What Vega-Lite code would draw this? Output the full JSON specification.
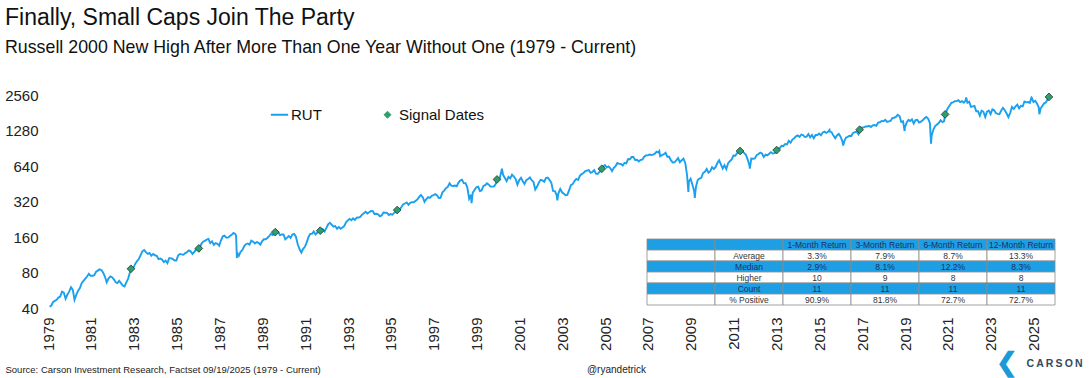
{
"$schema": "https://vega.github.io/schema/vega-lite/v6.json",
"width": 1001,
"height": 213,
"autosize": {"type": "none"},
"padding": {"left": 48, "top": 95, "right": 41, "bottom": 70},
"background": "white",
"config": {"font": "Liberation Sans", "view": {"stroke": null}},
"title": {
  "text": "Finally, Small Caps Join The Party",
  "subtitle": "Russell 2000 New High After More Than One Year Without One (1979 - Current)",
  "anchor": "start", "frame": "group", "dx": -43, "offset": 31,
  "font": "Liberation Sans", "fontSize": 23, "fontWeight": "normal", "color": "#111111",
  "subtitleFont": "Liberation Sans", "subtitleFontSize": 17.8, "subtitleColor": "#111111", "subtitlePadding": 9
},
"datasets": {
"rut": [
{"d":"1979-01-28","v":41},{"d":"1979-02-28","v":42},{"d":"1979-03-28","v":45},{"d":"1979-04-28","v":46},{"d":"1979-05-28","v":47},{"d":"1979-06-28","v":49},{"d":"1979-07-28","v":50},{"d":"1979-08-28","v":55},{"d":"1979-09-28","v":54},{"d":"1979-10-28","v":48},{"d":"1979-11-28","v":52},{"d":"1979-12-28","v":55},
{"d":"1980-01-28","v":60},{"d":"1980-02-28","v":57},{"d":"1980-03-28","v":47},{"d":"1980-04-28","v":52},{"d":"1980-05-28","v":56},{"d":"1980-06-28","v":59},{"d":"1980-07-28","v":65},{"d":"1980-08-28","v":68},{"d":"1980-09-28","v":71},{"d":"1980-10-28","v":74},{"d":"1980-11-28","v":78},{"d":"1980-12-28","v":75},
{"d":"1981-01-28","v":75},{"d":"1981-02-28","v":76},{"d":"1981-03-28","v":81},{"d":"1981-04-28","v":83},{"d":"1981-05-28","v":85},{"d":"1981-06-28","v":84},{"d":"1981-07-28","v":80},{"d":"1981-08-28","v":74},{"d":"1981-09-28","v":66},{"d":"1981-10-28","v":71},{"d":"1981-11-28","v":74},{"d":"1981-12-28","v":73},
{"d":"1982-01-28","v":70},{"d":"1982-02-28","v":66},{"d":"1982-03-28","v":65},{"d":"1982-04-28","v":68},{"d":"1982-05-28","v":65},{"d":"1982-06-28","v":62},{"d":"1982-07-28","v":61},{"d":"1982-08-28","v":66},{"d":"1982-09-28","v":71},{"d":"1982-10-28","v":80},{"d":"1982-11-15","v":86},{"d":"1982-11-28","v":86},{"d":"1982-12-28","v":88},
{"d":"1983-01-28","v":95},{"d":"1983-02-28","v":100},{"d":"1983-03-28","v":104},{"d":"1983-04-28","v":112},{"d":"1983-05-28","v":121},{"d":"1983-06-28","v":124},{"d":"1983-07-28","v":119},{"d":"1983-08-28","v":115},{"d":"1983-09-28","v":117},{"d":"1983-10-28","v":111},{"d":"1983-11-28","v":115},{"d":"1983-12-28","v":112},
{"d":"1984-01-28","v":111},{"d":"1984-02-28","v":104},{"d":"1984-03-28","v":105},{"d":"1984-04-28","v":103},{"d":"1984-05-28","v":98},{"d":"1984-06-28","v":101},{"d":"1984-07-28","v":96},{"d":"1984-08-28","v":106},{"d":"1984-09-28","v":106},{"d":"1984-10-28","v":104},{"d":"1984-11-28","v":101},{"d":"1984-12-28","v":101},
{"d":"1985-01-28","v":112},{"d":"1985-02-28","v":115},{"d":"1985-03-28","v":114},{"d":"1985-04-28","v":113},{"d":"1985-05-28","v":117},{"d":"1985-06-28","v":119},{"d":"1985-07-28","v":123},{"d":"1985-08-28","v":121},{"d":"1985-09-28","v":115},{"d":"1985-10-28","v":119},{"d":"1985-11-28","v":126},{"d":"1985-12-28","v":124},
{"d":"1986-01-15","v":128},{"d":"1986-01-28","v":128},{"d":"1986-02-28","v":140},{"d":"1986-03-28","v":146},{"d":"1986-04-28","v":148},{"d":"1986-05-28","v":152},{"d":"1986-06-28","v":154},{"d":"1986-07-28","v":142},{"d":"1986-08-28","v":147},{"d":"1986-09-28","v":137},{"d":"1986-10-28","v":142},{"d":"1986-11-28","v":140},{"d":"1986-12-28","v":135},
{"d":"1987-01-28","v":150},{"d":"1987-02-28","v":162},{"d":"1987-03-28","v":164},{"d":"1987-04-28","v":158},{"d":"1987-05-28","v":158},{"d":"1987-06-28","v":163},{"d":"1987-07-28","v":167},{"d":"1987-08-28","v":173},{"d":"1987-09-28","v":170},{"d":"1987-10-12","v":164},{"d":"1987-10-26","v":106},{"d":"1987-10-30","v":118},{"d":"1987-11-28","v":111},{"d":"1987-12-28","v":120},
{"d":"1988-01-28","v":124},{"d":"1988-02-28","v":134},{"d":"1988-03-28","v":139},{"d":"1988-04-28","v":141},{"d":"1988-05-28","v":138},{"d":"1988-06-28","v":149},{"d":"1988-07-28","v":146},{"d":"1988-08-28","v":141},{"d":"1988-09-28","v":145},{"d":"1988-10-28","v":143},{"d":"1988-11-28","v":138},{"d":"1988-12-28","v":147},
{"d":"1989-01-28","v":153},{"d":"1989-02-28","v":153},{"d":"1989-03-28","v":157},{"d":"1989-04-28","v":163},{"d":"1989-05-28","v":170},{"d":"1989-06-28","v":166},{"d":"1989-07-28","v":172},{"d":"1989-08-10","v":176},{"d":"1989-08-28","v":178},{"d":"1989-09-28","v":177},{"d":"1989-10-28","v":166},{"d":"1989-11-28","v":168},{"d":"1989-12-28","v":168},
{"d":"1990-01-28","v":153},{"d":"1990-02-28","v":158},{"d":"1990-03-28","v":163},{"d":"1990-04-28","v":157},{"d":"1990-05-28","v":168},{"d":"1990-06-28","v":170},{"d":"1990-07-28","v":161},{"d":"1990-08-28","v":139},{"d":"1990-09-28","v":126},{"d":"1990-10-28","v":118},{"d":"1990-11-28","v":127},{"d":"1990-12-28","v":132},
{"d":"1991-01-28","v":144},{"d":"1991-02-28","v":160},{"d":"1991-03-28","v":170},{"d":"1991-04-28","v":170},{"d":"1991-05-28","v":178},{"d":"1991-06-28","v":168},{"d":"1991-07-28","v":174},{"d":"1991-08-28","v":181},{"d":"1991-09-15","v":181},{"d":"1991-09-28","v":182},{"d":"1991-10-28","v":187},{"d":"1991-11-28","v":178},{"d":"1991-12-28","v":190},
{"d":"1992-01-28","v":205},{"d":"1992-02-28","v":211},{"d":"1992-03-28","v":204},{"d":"1992-04-28","v":196},{"d":"1992-05-28","v":198},{"d":"1992-06-28","v":188},{"d":"1992-07-28","v":194},{"d":"1992-08-28","v":188},{"d":"1992-09-28","v":193},{"d":"1992-10-28","v":198},{"d":"1992-11-28","v":213},{"d":"1992-12-28","v":221},
{"d":"1993-01-28","v":228},{"d":"1993-02-28","v":222},{"d":"1993-03-28","v":230},{"d":"1993-04-28","v":223},{"d":"1993-05-28","v":233},{"d":"1993-06-28","v":234},{"d":"1993-07-28","v":237},{"d":"1993-08-28","v":248},{"d":"1993-09-28","v":255},{"d":"1993-10-28","v":262},{"d":"1993-11-28","v":253},{"d":"1993-12-28","v":259},
{"d":"1994-01-28","v":266},{"d":"1994-02-28","v":265},{"d":"1994-03-28","v":251},{"d":"1994-04-28","v":252},{"d":"1994-05-28","v":249},{"d":"1994-06-28","v":240},{"d":"1994-07-28","v":244},{"d":"1994-08-28","v":258},{"d":"1994-09-28","v":257},{"d":"1994-10-28","v":256},{"d":"1994-11-28","v":246},{"d":"1994-12-28","v":250},
{"d":"1995-01-28","v":247},{"d":"1995-02-28","v":257},{"d":"1995-03-28","v":261},{"d":"1995-04-20","v":271},{"d":"1995-04-28","v":267},{"d":"1995-05-28","v":272},{"d":"1995-06-28","v":286},{"d":"1995-07-28","v":302},{"d":"1995-08-28","v":308},{"d":"1995-09-28","v":314},{"d":"1995-10-28","v":300},{"d":"1995-11-28","v":312},{"d":"1995-12-28","v":316},
{"d":"1996-01-28","v":315},{"d":"1996-02-28","v":325},{"d":"1996-03-28","v":332},{"d":"1996-04-28","v":350},{"d":"1996-05-28","v":363},{"d":"1996-06-28","v":348},{"d":"1996-07-28","v":318},{"d":"1996-08-28","v":336},{"d":"1996-09-28","v":349},{"d":"1996-10-28","v":344},{"d":"1996-11-28","v":358},{"d":"1996-12-28","v":363},
{"d":"1997-01-28","v":369},{"d":"1997-02-28","v":360},{"d":"1997-03-28","v":343},{"d":"1997-04-28","v":344},{"d":"1997-05-28","v":382},{"d":"1997-06-28","v":396},{"d":"1997-07-28","v":415},{"d":"1997-08-28","v":425},{"d":"1997-09-28","v":456},{"d":"1997-10-28","v":436},{"d":"1997-11-28","v":433},{"d":"1997-12-28","v":437},
{"d":"1998-01-28","v":431},{"d":"1998-02-28","v":463},{"d":"1998-03-28","v":482},{"d":"1998-04-28","v":490},{"d":"1998-05-28","v":458},{"d":"1998-06-28","v":457},{"d":"1998-07-28","v":420},{"d":"1998-08-28","v":338},{"d":"1998-09-28","v":365},{"d":"1998-10-08","v":310},{"d":"1998-10-28","v":380},{"d":"1998-11-28","v":400},{"d":"1998-12-28","v":422},
{"d":"1999-01-28","v":427},{"d":"1999-02-28","v":393},{"d":"1999-03-28","v":397},{"d":"1999-04-28","v":433},{"d":"1999-05-28","v":440},{"d":"1999-06-28","v":457},{"d":"1999-07-28","v":445},{"d":"1999-08-28","v":428},{"d":"1999-09-28","v":428},{"d":"1999-10-28","v":430},{"d":"1999-11-28","v":455},{"d":"1999-12-15","v":492},{"d":"1999-12-28","v":505},
{"d":"2000-01-28","v":497},{"d":"2000-02-28","v":577},{"d":"2000-03-09","v":606},{"d":"2000-03-28","v":540},{"d":"2000-04-28","v":507},{"d":"2000-05-28","v":477},{"d":"2000-06-28","v":518},{"d":"2000-07-28","v":502},{"d":"2000-08-28","v":540},{"d":"2000-09-28","v":521},{"d":"2000-10-28","v":497},{"d":"2000-11-28","v":445},{"d":"2000-12-28","v":484},
{"d":"2001-01-28","v":508},{"d":"2001-02-28","v":475},{"d":"2001-03-28","v":450},{"d":"2001-04-28","v":485},{"d":"2001-05-28","v":497},{"d":"2001-06-28","v":512},{"d":"2001-07-28","v":485},{"d":"2001-08-28","v":469},{"d":"2001-09-28","v":404},{"d":"2001-10-28","v":428},{"d":"2001-11-28","v":462},{"d":"2001-12-28","v":489},
{"d":"2002-01-28","v":483},{"d":"2002-02-28","v":470},{"d":"2002-03-28","v":506},{"d":"2002-04-28","v":511},{"d":"2002-05-28","v":488},{"d":"2002-06-28","v":463},{"d":"2002-07-28","v":393},{"d":"2002-08-28","v":392},{"d":"2002-09-28","v":363},{"d":"2002-10-09","v":327},{"d":"2002-10-28","v":375},{"d":"2002-11-28","v":409},{"d":"2002-12-28","v":383},
{"d":"2003-01-28","v":372},{"d":"2003-02-28","v":361},{"d":"2003-03-28","v":364},{"d":"2003-04-28","v":399},{"d":"2003-05-28","v":441},{"d":"2003-06-28","v":449},{"d":"2003-07-28","v":477},{"d":"2003-08-28","v":497},{"d":"2003-09-28","v":487},{"d":"2003-10-28","v":528},{"d":"2003-11-28","v":547},{"d":"2003-12-28","v":557},
{"d":"2004-01-28","v":580},{"d":"2004-02-28","v":585},{"d":"2004-03-28","v":590},{"d":"2004-04-28","v":560},{"d":"2004-05-28","v":569},{"d":"2004-06-28","v":591},{"d":"2004-07-28","v":551},{"d":"2004-08-28","v":548},{"d":"2004-09-28","v":572},{"d":"2004-10-28","v":583},{"d":"2004-11-05","v":606},{"d":"2004-11-28","v":633},{"d":"2004-12-28","v":652},
{"d":"2005-01-28","v":624},{"d":"2005-02-28","v":634},{"d":"2005-03-28","v":615},{"d":"2005-04-28","v":579},{"d":"2005-05-28","v":617},{"d":"2005-06-28","v":639},{"d":"2005-07-28","v":679},{"d":"2005-08-28","v":667},{"d":"2005-09-28","v":667},{"d":"2005-10-28","v":646},{"d":"2005-11-28","v":681},{"d":"2005-12-28","v":673},
{"d":"2006-01-28","v":733},{"d":"2006-02-28","v":730},{"d":"2006-03-28","v":765},{"d":"2006-04-28","v":764},{"d":"2006-05-28","v":721},{"d":"2006-06-28","v":724},{"d":"2006-07-28","v":700},{"d":"2006-08-28","v":721},{"d":"2006-09-28","v":725},{"d":"2006-10-28","v":767},{"d":"2006-11-28","v":787},{"d":"2006-12-28","v":788},
{"d":"2007-01-28","v":801},{"d":"2007-02-28","v":793},{"d":"2007-03-28","v":800},{"d":"2007-04-28","v":814},{"d":"2007-05-28","v":847},{"d":"2007-06-28","v":833},{"d":"2007-07-13","v":856},{"d":"2007-07-28","v":776},{"d":"2007-08-28","v":792},{"d":"2007-09-28","v":805},{"d":"2007-10-28","v":828},{"d":"2007-11-28","v":767},{"d":"2007-12-28","v":766},
{"d":"2008-01-28","v":713},{"d":"2008-02-28","v":686},{"d":"2008-03-28","v":687},{"d":"2008-04-28","v":714},{"d":"2008-05-28","v":747},{"d":"2008-06-28","v":689},{"d":"2008-07-28","v":714},{"d":"2008-08-28","v":740},{"d":"2008-09-28","v":679},{"d":"2008-10-28","v":537},{"d":"2008-11-20","v":385},{"d":"2008-11-28","v":473},{"d":"2008-12-28","v":499},
{"d":"2009-01-28","v":443},{"d":"2009-02-28","v":389},{"d":"2009-03-09","v":343},{"d":"2009-03-28","v":423},{"d":"2009-04-28","v":487},{"d":"2009-05-28","v":501},{"d":"2009-06-28","v":508},{"d":"2009-07-28","v":557},{"d":"2009-08-28","v":572},{"d":"2009-09-28","v":604},{"d":"2009-10-28","v":562},{"d":"2009-11-28","v":579},{"d":"2009-12-28","v":625},
{"d":"2010-01-28","v":602},{"d":"2010-02-28","v":628},{"d":"2010-03-28","v":678},{"d":"2010-04-28","v":716},{"d":"2010-05-28","v":662},{"d":"2010-06-28","v":609},{"d":"2010-07-28","v":650},{"d":"2010-08-28","v":602},{"d":"2010-09-28","v":676},{"d":"2010-10-28","v":703},{"d":"2010-11-28","v":727},{"d":"2010-12-28","v":784},
{"d":"2011-01-28","v":781},{"d":"2011-02-28","v":823},{"d":"2011-03-28","v":843},{"d":"2011-04-20","v":858},{"d":"2011-04-28","v":865},{"d":"2011-05-28","v":848},{"d":"2011-06-28","v":827},{"d":"2011-07-28","v":797},{"d":"2011-08-28","v":726},{"d":"2011-09-28","v":644},{"d":"2011-10-03","v":609},{"d":"2011-10-28","v":741},{"d":"2011-11-28","v":737},{"d":"2011-12-28","v":741},
{"d":"2012-01-28","v":792},{"d":"2012-02-28","v":810},{"d":"2012-03-28","v":830},{"d":"2012-04-28","v":817},{"d":"2012-05-28","v":762},{"d":"2012-06-28","v":798},{"d":"2012-07-28","v":786},{"d":"2012-08-28","v":812},{"d":"2012-09-28","v":837},{"d":"2012-10-28","v":818},{"d":"2012-11-28","v":822},{"d":"2012-12-28","v":849},
{"d":"2013-01-02","v":873},{"d":"2013-01-28","v":902},{"d":"2013-02-28","v":911},{"d":"2013-03-28","v":951},{"d":"2013-04-28","v":947},{"d":"2013-05-28","v":984},{"d":"2013-06-28","v":977},{"d":"2013-07-28","v":1045},{"d":"2013-08-28","v":1010},{"d":"2013-09-28","v":1073},{"d":"2013-10-28","v":1100},{"d":"2013-11-28","v":1143},{"d":"2013-12-28","v":1164},
{"d":"2014-01-28","v":1130},{"d":"2014-02-28","v":1183},{"d":"2014-03-28","v":1173},{"d":"2014-04-28","v":1127},{"d":"2014-05-28","v":1135},{"d":"2014-06-28","v":1193},{"d":"2014-07-28","v":1120},{"d":"2014-08-28","v":1174},{"d":"2014-09-28","v":1101},{"d":"2014-10-28","v":1174},{"d":"2014-11-28","v":1173},{"d":"2014-12-28","v":1205},
{"d":"2015-01-28","v":1165},{"d":"2015-02-28","v":1234},{"d":"2015-03-28","v":1252},{"d":"2015-04-28","v":1220},{"d":"2015-05-28","v":1247},{"d":"2015-06-23","v":1295},{"d":"2015-06-28","v":1254},{"d":"2015-07-28","v":1239},{"d":"2015-08-28","v":1159},{"d":"2015-09-28","v":1100},{"d":"2015-10-28","v":1162},{"d":"2015-11-28","v":1198},{"d":"2015-12-28","v":1136},
{"d":"2016-01-28","v":1035},{"d":"2016-02-11","v":953},{"d":"2016-02-28","v":1034},{"d":"2016-03-28","v":1114},{"d":"2016-04-28","v":1130},{"d":"2016-05-28","v":1154},{"d":"2016-06-28","v":1151},{"d":"2016-07-28","v":1220},{"d":"2016-08-28","v":1239},{"d":"2016-09-28","v":1252},{"d":"2016-10-28","v":1191},{"d":"2016-11-17","v":1300},{"d":"2016-11-28","v":1322},{"d":"2016-12-28","v":1357},
{"d":"2017-01-28","v":1362},{"d":"2017-02-28","v":1386},{"d":"2017-03-28","v":1385},{"d":"2017-04-28","v":1400},{"d":"2017-05-28","v":1370},{"d":"2017-06-28","v":1415},{"d":"2017-07-28","v":1425},{"d":"2017-08-28","v":1405},{"d":"2017-09-28","v":1491},{"d":"2017-10-28","v":1503},{"d":"2017-11-28","v":1544},{"d":"2017-12-28","v":1536},
{"d":"2018-01-28","v":1575},{"d":"2018-02-28","v":1512},{"d":"2018-03-28","v":1529},{"d":"2018-04-28","v":1541},{"d":"2018-05-28","v":1634},{"d":"2018-06-28","v":1643},{"d":"2018-07-28","v":1670},{"d":"2018-08-28","v":1740},{"d":"2018-09-28","v":1696},{"d":"2018-10-28","v":1511},{"d":"2018-11-28","v":1533},{"d":"2018-12-24","v":1267},{"d":"2018-12-28","v":1349},
{"d":"2019-01-28","v":1499},{"d":"2019-02-28","v":1575},{"d":"2019-03-28","v":1540},{"d":"2019-04-28","v":1591},{"d":"2019-05-28","v":1466},{"d":"2019-06-28","v":1567},{"d":"2019-07-28","v":1575},{"d":"2019-08-28","v":1495},{"d":"2019-09-28","v":1523},{"d":"2019-10-28","v":1562},{"d":"2019-11-28","v":1624},{"d":"2019-12-28","v":1668},
{"d":"2020-01-28","v":1614},{"d":"2020-02-28","v":1476},{"d":"2020-03-18","v":991},{"d":"2020-03-28","v":1153},{"d":"2020-04-28","v":1310},{"d":"2020-05-28","v":1394},{"d":"2020-06-28","v":1441},{"d":"2020-07-28","v":1480},{"d":"2020-08-28","v":1561},{"d":"2020-09-28","v":1507},{"d":"2020-10-28","v":1538},{"d":"2020-11-13","v":1753},{"d":"2020-11-28","v":1820},{"d":"2020-12-28","v":1975},
{"d":"2021-01-28","v":2073},{"d":"2021-02-28","v":2201},{"d":"2021-03-28","v":2220},{"d":"2021-04-28","v":2266},{"d":"2021-05-28","v":2269},{"d":"2021-06-28","v":2311},{"d":"2021-07-28","v":2226},{"d":"2021-08-28","v":2273},{"d":"2021-09-28","v":2204},{"d":"2021-10-28","v":2297},{"d":"2021-11-08","v":2442},{"d":"2021-11-28","v":2198},{"d":"2021-12-28","v":2245},
{"d":"2022-01-28","v":2028},{"d":"2022-02-28","v":2048},{"d":"2022-03-28","v":2070},{"d":"2022-04-28","v":1864},{"d":"2022-05-28","v":1864},{"d":"2022-06-28","v":1708},{"d":"2022-07-28","v":1885},{"d":"2022-08-28","v":1844},{"d":"2022-09-28","v":1664},{"d":"2022-10-28","v":1846},{"d":"2022-11-28","v":1887},{"d":"2022-12-28","v":1761},
{"d":"2023-01-28","v":1931},{"d":"2023-02-28","v":1897},{"d":"2023-03-28","v":1802},{"d":"2023-04-28","v":1768},{"d":"2023-05-28","v":1758},{"d":"2023-06-28","v":1889},{"d":"2023-07-28","v":1993},{"d":"2023-08-28","v":1900},{"d":"2023-09-28","v":1785},{"d":"2023-10-28","v":1662},{"d":"2023-11-28","v":1810},{"d":"2023-12-28","v":2027},
{"d":"2024-01-28","v":1947},{"d":"2024-02-28","v":2055},{"d":"2024-03-28","v":2125},{"d":"2024-04-28","v":1974},{"d":"2024-05-28","v":2070},{"d":"2024-06-28","v":2048},{"d":"2024-07-28","v":2254},{"d":"2024-08-28","v":2218},{"d":"2024-09-28","v":2230},{"d":"2024-10-28","v":2197},{"d":"2024-11-25","v":2442},{"d":"2024-11-28","v":2434},{"d":"2024-12-28","v":2230},
{"d":"2025-01-28","v":2288},{"d":"2025-02-28","v":2163},{"d":"2025-03-28","v":2011},{"d":"2025-04-08","v":1760},{"d":"2025-04-28","v":1964},{"d":"2025-05-28","v":2067},{"d":"2025-06-28","v":2175},{"d":"2025-07-28","v":2212},{"d":"2025-08-28","v":2367},{"d":"2025-09-18","v":2467}
],
"sig": [
{"d":"1982-11-15","v":86},{"d":"1986-01-15","v":128},{"d":"1989-08-10","v":176},{"d":"1991-09-15","v":181},{"d":"1995-04-20","v":271},{"d":"1999-12-15","v":492},{"d":"2004-11-05","v":606},{"d":"2011-04-20","v":858},{"d":"2013-01-02","v":873},{"d":"2016-11-17","v":1300},{"d":"2020-11-13","v":1753},{"d":"2025-09-18","v":2467}
],
"tbl": [
{"row":"hdr","col":"blank","t":""},{"row":"hdr","col":"label","t":""},{"row":"hdr","col":"m1","t":"1-Month Return"},{"row":"hdr","col":"m3","t":"3-Month Return"},{"row":"hdr","col":"m6","t":"6-Month Return"},{"row":"hdr","col":"m12","t":"12-Month Return"},
{"row":"avg","col":"blank","t":""},{"row":"avg","col":"label","t":"Average"},{"row":"avg","col":"m1","t":"3.3%"},{"row":"avg","col":"m3","t":"7.9%"},{"row":"avg","col":"m6","t":"8.7%"},{"row":"avg","col":"m12","t":"13.3%"},
{"row":"med","col":"blank","t":""},{"row":"med","col":"label","t":"Median"},{"row":"med","col":"m1","t":"2.9%"},{"row":"med","col":"m3","t":"8.1%"},{"row":"med","col":"m6","t":"12.2%"},{"row":"med","col":"m12","t":"8.3%"},
{"row":"hi","col":"blank","t":""},{"row":"hi","col":"label","t":"Higher"},{"row":"hi","col":"m1","t":"10"},{"row":"hi","col":"m3","t":"9"},{"row":"hi","col":"m6","t":"8"},{"row":"hi","col":"m12","t":"8"},
{"row":"cnt","col":"blank","t":""},{"row":"cnt","col":"label","t":"Count"},{"row":"cnt","col":"m1","t":"11"},{"row":"cnt","col":"m3","t":"11"},{"row":"cnt","col":"m6","t":"11"},{"row":"cnt","col":"m12","t":"11"},
{"row":"pos","col":"blank","t":""},{"row":"pos","col":"label","t":"% Positive"},{"row":"pos","col":"m1","t":"90.9%"},{"row":"pos","col":"m3","t":"81.8%"},{"row":"pos","col":"m6","t":"72.7%"},{"row":"pos","col":"m12","t":"72.7%"}
]
},
"layer": [
 {
  "layer": [
   {
    "data": {"name": "rut"},
    "mark": {"type": "line", "strokeWidth": 1.9, "interpolate": "linear"},
    "encoding": {
     "x": {"field": "d", "type": "temporal",
       "scale": {"domain": [{"year": 1979, "month": 1, "date": 1}, {"year": 2025, "month": 9, "date": 19}]},
       "axis": {"orient": "bottom", "values": [{"year":1979},{"year":1981},{"year":1983},{"year":1985},{"year":1987},{"year":1989},{"year":1991},{"year":1993},{"year":1995},{"year":1997},{"year":1999},{"year":2001},{"year":2003},{"year":2005},{"year":2007},{"year":2009},{"year":2011},{"year":2013},{"year":2015},{"year":2017},{"year":2019},{"year":2021},{"year":2023},{"year":2025}],
         "format": "%Y", "labelAngle": 270, "labelFontSize": 15, "labelColor": "#222222", "labelPadding": 9,
         "labelOverlap": false, "labelFlush": false, "ticks": false, "domain": false, "grid": false,
         "title": "Source: Carson Investment Research, Factset 09/19/2025 (1979 - Current)",
         "titleFontSize": 9.5, "titleFontWeight": "normal", "titleColor": "#222222", "titleX": -43, "titleY": 64,
         "titleAlign": "left", "titleBaseline": "alphabetic", "titleAnchor": "start"}},
     "y": {"field": "v", "type": "quantitative",
       "scale": {"type": "log", "base": 2, "domain": [40, 2560], "nice": false},
       "axis": {"values": [40, 80, 160, 320, 640, 1280, 2560], "format": "d", "labelFontSize": 15, "labelColor": "#222222",
         "labelPadding": 10, "ticks": false, "domain": false, "grid": false, "title": null, "labelFlush": false, "labelOverlap": false}},
     "color": {"datum": "RUT", "type": "nominal",
       "scale": {"domain": ["RUT", "Signal Dates"], "range": ["#1AA0EE", "#2E9E6F"]},
       "legend": {"orient": "none", "legendX": 224, "legendY": 12, "direction": "horizontal", "title": null,
         "labelFontSize": 15, "labelColor": "#111111", "labelFont": "Liberation Sans", "columnPadding": 58, "labelOffset": 4,
         "symbolSize": 300,
         "encode": {"symbols": {"update": {
           "shape": {"signal": "datum.value === 'RUT' ? 'stroke' : 'diamond'"},
           "size": {"signal": "datum.value === 'RUT' ? 300 : 50"},
           "stroke": {"signal": "datum.value === 'RUT' ? '#1AA0EE' : '#1E3B2C'"},
           "fill": {"signal": "datum.value === 'RUT' ? 'transparent' : '#2E9E6F'"},
           "strokeWidth": {"signal": "datum.value === 'RUT' ? 2 : 0.8"},
           "opacity": {"value": 1}
         }}}}}
    }
   },
   {
    "data": {"name": "sig"},
    "mark": {"type": "point", "shape": "diamond", "filled": true, "size": 60, "stroke": "#1E3B2C", "strokeWidth": 0.8, "opacity": 1},
    "encoding": {
     "x": {"field": "d", "type": "temporal"},
     "y": {"field": "v", "type": "quantitative"},
     "color": {"datum": "Signal Dates", "type": "nominal"}
    }
   }
  ]
 },
 {
  "data": {"name": "tbl"},
  "layer": [
   {
    "mark": {"type": "rect", "stroke": "#8c8c8c", "strokeWidth": 0.8},
    "encoding": {
     "x": {"field": "col", "type": "nominal",
       "scale": {"domain": ["blank", "label", "m1", "m3", "m6", "m12"], "range": [599, 1007], "paddingInner": 0, "paddingOuter": 0},
       "axis": {"orient": "bottom", "labels": false, "ticks": false, "domain": false, "grid": false, "title": "@ryandetrick",
         "titleFontSize": 10, "titleFontWeight": "normal", "titleColor": "#222222", "titleX": 568, "titleY": 64,
         "titleAlign": "center", "titleBaseline": "alphabetic"}},
     "y": {"field": "row", "type": "nominal",
       "scale": {"domain": ["hdr", "avg", "med", "hi", "cnt", "pos"], "range": [144, 210], "paddingInner": 0, "paddingOuter": 0},
       "axis": {"orient": "right", "labels": false, "ticks": false, "domain": false, "grid": false,
         "title": "C\u2009A\u2009R\u2009S\u2009O\u2009N", "titleAngle": 0, "titleFontSize": 10.5, "titleFontWeight": "bold",
         "titleColor": "#34495E", "titleX": 5, "titleY": 271, "titleAlign": "center", "titleBaseline": "alphabetic"}},
     "fill": {"condition": {"test": "indexof(['hdr','med','cnt'], datum.row) >= 0", "value": "#1E9FE3"}, "value": "#ffffff"}
    }
   },
   {
    "mark": {"type": "text", "fontSize": 8.5, "font": "Liberation Sans"},
    "encoding": {
     "x": {"field": "col", "type": "nominal"},
     "y": {"field": "row", "type": "nominal",
       "axis": {"orient": "left", "labels": false, "ticks": false, "domain": false, "grid": false,
         "title": "\u276E", "titleAngle": 0, "titleFontSize": 26, "titleFontWeight": "bold", "titleColor": "#1A9BD7",
         "titleX": 958, "titleY": 275, "titleAlign": "center", "titleBaseline": "alphabetic"}},
     "text": {"field": "t"},
     "color": {"condition": {"test": "indexof(['hdr','med','cnt'], datum.row) >= 0", "value": "#1B2F66"}, "value": "#333333"}
    }
   }
  ],
  "resolve": {"axis": {"y": "independent"}}
 }
],
"resolve": {"scale": {"x": "independent", "y": "independent", "color": "independent"}}
}
